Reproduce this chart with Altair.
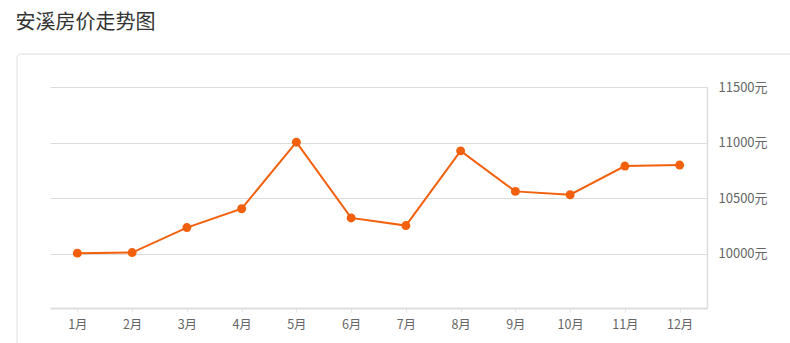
import altair as alt
import pandas as pd

months = ["1月", "2月", "3月", "4月", "5月", "6月", "7月", "8月", "9月", "10月", "11月", "12月"]
prices = [10004, 10009, 10234, 10404, 11003, 10321, 10252, 10925, 10560, 10530, 10788, 10797]
y_ticks = [10000, 10500, 11000, 11500]

df = pd.DataFrame({"month": months, "price": prices})

W, H = 657, 221
ORANGE = "#f2600c"
FONT = "Microsoft YaHei, Noto Sans CJK SC"

x_enc = alt.X(
    "month:N",
    sort=months,
    scale=alt.Scale(type="point", padding=0.5),
    axis=alt.Axis(
        title=None,
        labelAngle=0,
        domainColor="#dddddd",
        domainWidth=2,
        tickColor="#e6e6e6",
        tickSize=4,
        labelColor="#666666",
        labelFontSize=12.5,
        labelFont=FONT,
        labelPadding=6,
        grid=False,
    ),
)
y_enc = alt.Y(
    "price:Q",
    scale=alt.Scale(domain=[9510, 11500], nice=False, zero=False),
    axis=alt.Axis(
        orient="right",
        title=None,
        values=y_ticks,
        labelExpr="datum.value + '元'",
        domainColor="#dddddd",
        domainWidth=1.5,
        ticks=False,
        labelPadding=11,
        labelColor="#666666",
        labelFontSize=13,
        labelFont=FONT,
        gridColor="#dcdcdc",
        gridWidth=1,
    ),
)

card = alt.Chart(pd.DataFrame({"a": [0]})).mark_rect(
    fillOpacity=0, stroke="#dddddd", strokeWidth=1, cornerRadius=4
).encode(
    x=alt.value(-33), x2=alt.value(W + 120), y=alt.value(-33), y2=alt.value(H + 80)
)

line = alt.Chart(df).mark_line(color=ORANGE, strokeWidth=2).encode(x=x_enc, y=y_enc)
points = alt.Chart(df).mark_circle(color=ORANGE, size=80, opacity=1).encode(x=x_enc, y=y_enc)

chart = alt.layer(card, line, points).properties(
    width=W,
    height=H,
    padding={"left": 50, "top": 87, "right": 83, "bottom": 35},
    autosize=alt.AutoSizeParams(type="none"),
    title=alt.TitleParams(
        "安溪房价走势图",
        anchor="start",
        fontSize=20,
        fontWeight="normal",
        color="#333333",
        font=FONT,
        dx=-1,
        offset=21,
    ),
).configure_view(stroke=None)

chart.save("out.html", embed_options={"renderer": "svg", "actions": False})
